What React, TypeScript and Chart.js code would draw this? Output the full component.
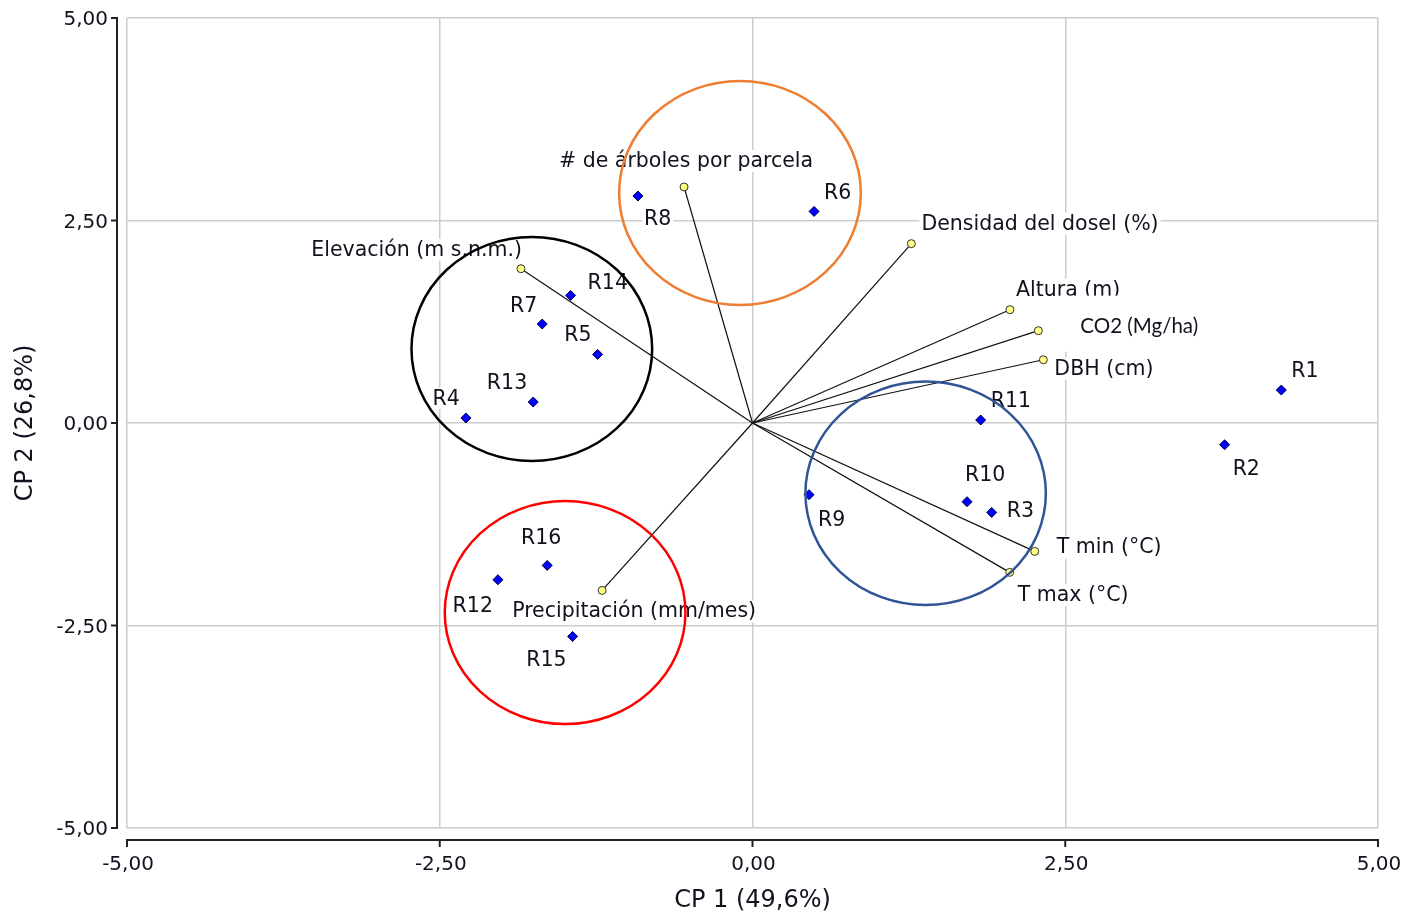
import React, { useEffect, useRef } from "react";
import { Chart, registerables } from "chart.js";

Chart.register(...registerables);

// ---- Data ----
const SITE_NAMES = ["R1", "R2", "R3", "R4", "R5", "R6", "R7", "R8", "R9", "R10", "R11", "R12", "R13", "R14", "R15", "R16"];
const SITE_CP1 = [4.227, 3.774, 1.912, -2.291, -1.238, 0.492, -1.681, -0.916, 0.452, 1.715, 1.824, -2.035, -1.753, -1.454, -1.438, -1.641];
const SITE_CP2 = [0.407, -0.268, -1.104, 0.062, 0.847, 2.612, 1.222, 2.802, -0.885, -0.972, 0.037, -1.935, 0.259, 1.575, -2.635, -1.758];

const VAR_NAMES = [
  "Elevación (m s.n.m.)",
  "# de árboles por parcela",
  "Densidad del dosel (%)",
  "Altura (m)",
  "CO2 (Mg/ha)",
  "DBH (cm)",
  "T min (°C)",
  "T max (°C)",
  "Precipitación (mm/mes)",
];
const VAR_CP1 = [-1.851, -0.547, 1.27, 2.058, 2.285, 2.325, 2.256, 2.056, -1.202];
const VAR_CP2 = [1.905, 2.914, 2.214, 1.399, 1.14, 0.781, -1.585, -1.844, -2.067];

// Group circles (centre and radii in data units)
const GROUP_CX = [-0.1, -1.764, -1.498, 1.384];
const GROUP_CY = [2.84, 0.914, -2.34, -0.868];
const GROUP_RX = [0.966, 0.962, 0.962, 0.961];
const GROUP_RY = [1.383, 1.383, 1.377, 1.379];

const X_TITLE = "CP 1 (49,6%)";
const Y_TITLE = "CP 2 (26,8%)";
const AXIS_MIN = -5;
const AXIS_MAX = 5;
const AXIS_STEP = 2.5;

// ---- Styling (label placement in pixels relative to the mark) ----
type LabelStyle = { align: CanvasTextAlign; dx: number; dy: number };
const SITE_LABEL_STYLE: LabelStyle[] = [
  { align: "left", dx: 10, dy: -13 },
  { align: "left", dx: 8, dy: 30 },
  { align: "left", dx: 15, dy: 5 },
  { align: "right", dx: -6, dy: -13 },
  { align: "right", dx: -6, dy: -13 },
  { align: "left", dx: 10, dy: -12 },
  { align: "right", dx: -5, dy: -12 },
  { align: "left", dx: 6, dy: 29 },
  { align: "left", dx: 9, dy: 31 },
  { align: "left", dx: -2, dy: -21 },
  { align: "left", dx: 10, dy: -13 },
  { align: "right", dx: -5, dy: 32 },
  { align: "right", dx: -6, dy: -13 },
  { align: "left", dx: 17, dy: -6 },
  { align: "right", dx: -6, dy: 30 },
  { align: "right", dx: 14, dy: -21 },
];
const VAR_LABEL_STYLE: LabelStyle[] = [
  { align: "right", dx: 1, dy: -13 },
  { align: "center", dx: 2, dy: -20 },
  { align: "left", dx: 10, dy: -14 },
  { align: "left", dx: 6, dy: -14 },
  { align: "left", dx: 42, dy: 2 },
  { align: "left", dx: 11, dy: 15 },
  { align: "left", dx: 22, dy: 2 },
  { align: "left", dx: 8, dy: 29 },
  { align: "left", dx: -90, dy: 27 },
];
const CIRCLE_COLORS = ["#ED7D31", "#000000", "#FF0000", "#2F5597"];

const LABEL_FONT = '20.5px "DejaVu Sans"';
const CO2_FONT = '20.5px Lato';
const TEXT_COLOR = "#12121f";

const fmt = (v: number) => v.toFixed(2).replace(".", ",");

function drawLabel(ctx: CanvasRenderingContext2D, text: string, px: number, py: number, st: LabelStyle, font: string, box: number[]) {
  ctx.font = font;
  const w = ctx.measureText(text).width;
  const bx = px + st.dx;
  const by = py + st.dy;
  let left = bx;
  if (st.align === "right") left = bx - w;
  else if (st.align === "center") left = bx - w / 2;
  ctx.fillStyle = "#ffffff";
  ctx.fillRect(left - box[0], by - box[1], w + box[0] + box[2], box[1] + box[3]);
  ctx.fillStyle = TEXT_COLOR;
  ctx.textAlign = "left";
  ctx.textBaseline = "alphabetic";
  ctx.fillText(text, left, by);
}

const decor = {
  id: "decor",
  beforeDraw(chart: any) {
    const ctx = chart.ctx;
    ctx.save();
    ctx.fillStyle = "#ffffff";
    ctx.fillRect(0, 0, chart.width, chart.height);
    ctx.restore();
  },
  afterDatasetsDraw(chart: any) {
    const ctx: CanvasRenderingContext2D = chart.ctx;
    const xs = chart.scales.x;
    const ys = chart.scales.y;
    const area = chart.chartArea;
    ctx.save();

    // variable labels
    VAR_NAMES.forEach((name, i) => {
      const px = xs.getPixelForValue(VAR_CP1[i]);
      const py = ys.getPixelForValue(VAR_CP2[i]);
      const isCO2 = name.startsWith("CO2");
      drawLabel(ctx, name, px, py, VAR_LABEL_STYLE[i], isCO2 ? CO2_FONT : LABEL_FONT, isCO2 ? [22, 37, 10, 19] : [2, 17, 2, 5]);
    });
    // site labels
    SITE_NAMES.forEach((name, i) => {
      const px = xs.getPixelForValue(SITE_CP1[i]);
      const py = ys.getPixelForValue(SITE_CP2[i]);
      drawLabel(ctx, name, px, py, SITE_LABEL_STYLE[i], LABEL_FONT, [2, 17, 2, 4]);
    });

    // group circles
    GROUP_CX.forEach((cx, i) => {
      const pcx = xs.getPixelForValue(cx);
      const pcy = ys.getPixelForValue(GROUP_CY[i]);
      const rx = Math.abs(xs.getPixelForValue(cx + GROUP_RX[i]) - pcx);
      const ry = Math.abs(ys.getPixelForValue(GROUP_CY[i] + GROUP_RY[i]) - pcy);
      ctx.beginPath();
      ctx.ellipse(pcx, pcy, rx, ry, 0, 0, Math.PI * 2);
      ctx.strokeStyle = CIRCLE_COLORS[i];
      ctx.lineWidth = 2.5;
      ctx.stroke();
    });

    // offset axes
    ctx.strokeStyle = "#222222";
    ctx.lineWidth = 2;
    const axX = area.left - 10;
    const axY = area.bottom + 12;
    ctx.beginPath();
    ctx.moveTo(axX, ys.getPixelForValue(AXIS_MAX));
    ctx.lineTo(axX, ys.getPixelForValue(AXIS_MIN));
    ys.ticks.forEach((t: any) => {
      const p = ys.getPixelForValue(t.value);
      ctx.moveTo(axX + 1, p);
      ctx.lineTo(axX - 6, p);
    });
    ctx.moveTo(xs.getPixelForValue(AXIS_MIN), axY);
    ctx.lineTo(xs.getPixelForValue(AXIS_MAX), axY);
    xs.ticks.forEach((t: any) => {
      const p = xs.getPixelForValue(t.value);
      ctx.moveTo(p, axY - 1);
      ctx.lineTo(p, axY + 7);
    });
    ctx.stroke();

    // tick labels
    ctx.font = '20px "DejaVu Sans"';
    ctx.fillStyle = TEXT_COLOR;
    ctx.textBaseline = "alphabetic";
    ctx.textAlign = "right";
    ys.ticks.forEach((t: any) => {
      const p = ys.getPixelForValue(t.value);
      ctx.fillText(fmt(t.value), axX - 9, p + 7.3);
    });
    ctx.textAlign = "center";
    xs.ticks.forEach((t: any) => {
      const p = xs.getPixelForValue(t.value);
      ctx.fillText(fmt(t.value), p + 1, axY + 30);
    });

    // axis titles
    ctx.font = '24px "DejaVu Sans"';
    ctx.textAlign = "center";
    ctx.fillText(X_TITLE, (area.left + area.right) / 2, 906.5);
    ctx.save();
    ctx.translate(31.5, (area.top + area.bottom) / 2);
    ctx.rotate(-Math.PI / 2);
    ctx.fillText(Y_TITLE, 0, 0);
    ctx.restore();

    ctx.restore();
  },
};

export default function App() {
  const ref = useRef<HTMLCanvasElement | null>(null);

  useEffect(() => {
    document.body.style.margin = "0";
    const canvas = ref.current;
    if (!canvas) return;

    const siteDataset = {
      type: "scatter" as const,
      label: "Sitios",
      data: SITE_NAMES.map((_, i) => ({ x: SITE_CP1[i], y: SITE_CP2[i] })),
      pointStyle: "rectRot",
      pointRadius: 5,
      pointBackgroundColor: "#0000ff",
      pointBorderColor: "#00004a",
      pointBorderWidth: 1,
      showLine: false,
    };
    const varDatasets = VAR_NAMES.map((name, i) => ({
      type: "scatter" as const,
      label: name,
      data: [
        { x: 0, y: 0 },
        { x: VAR_CP1[i], y: VAR_CP2[i] },
      ],
      showLine: true,
      borderColor: "#111111",
      borderWidth: 1.2,
      pointStyle: "circle",
      pointRadius: [0, 4],
      pointBackgroundColor: "#ffff80",
      pointBorderColor: "#333333",
      pointBorderWidth: 1,
    }));

    const gridCfg = {
      color: "#cccccc",
      lineWidth: 1.5,
      drawTicks: false,
    };

    const chart = new Chart(canvas, {
      type: "scatter",
      data: { datasets: [siteDataset, ...varDatasets] as any },
      options: {
        animation: false,
        responsive: false,
        devicePixelRatio: 1,
        events: [],
        layout: { padding: { left: 127, right: 42, top: 18, bottom: 85 } },
        plugins: { legend: { display: false }, tooltip: { enabled: false } },
        scales: {
          x: {
            type: "linear",
            min: AXIS_MIN,
            max: AXIS_MAX,
            ticks: { stepSize: AXIS_STEP, display: false },
            grid: gridCfg,
            border: { display: false },
            afterFit: (s: any) => {
              s.height = 0;
            },
          },
          y: {
            type: "linear",
            min: AXIS_MIN,
            max: AXIS_MAX,
            ticks: { stepSize: AXIS_STEP, display: false },
            grid: gridCfg,
            border: { display: false },
            afterFit: (s: any) => {
              s.width = 0;
            },
          },
        },
      } as any,
      plugins: [decor],
    });

    return () => chart.destroy();
  }, []);

  return (
    <div style={{ width: 1420, height: 913 }}>
      <canvas ref={ref} width={1420} height={913} style={{ display: "block", width: 1420, height: 913 }} />
    </div>
  );
}
